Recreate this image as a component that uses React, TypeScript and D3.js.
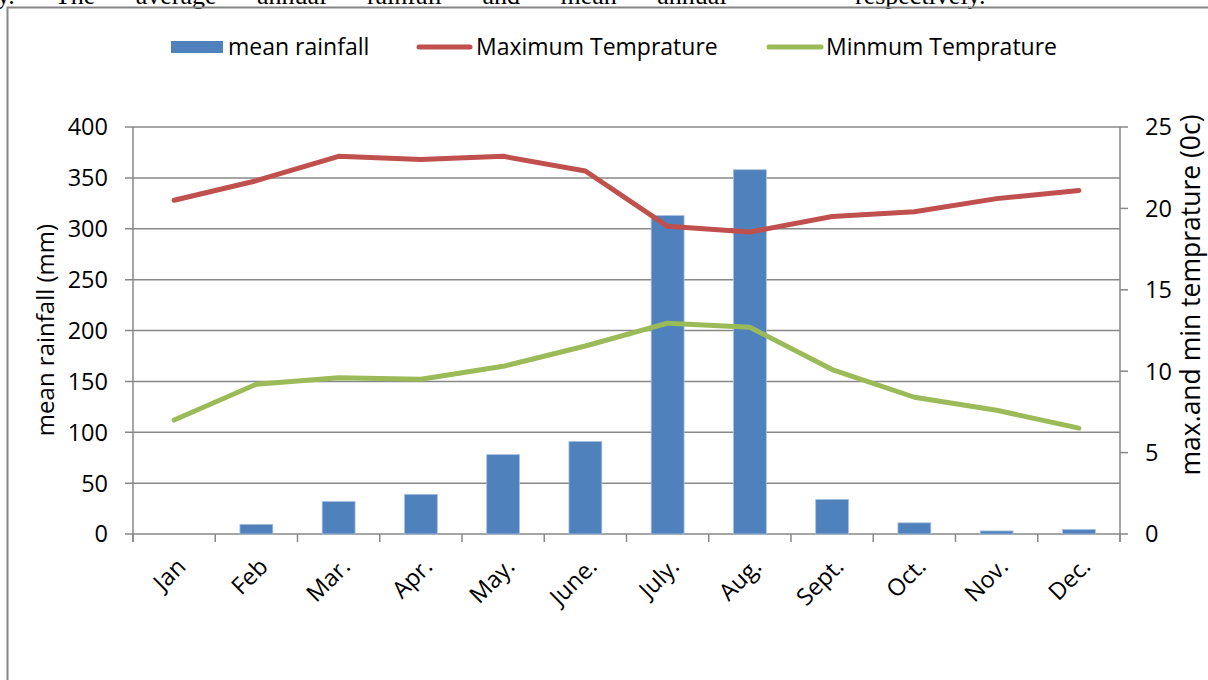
import * as d3 from 'd3'

const months = ['Jan', 'Feb', 'Mar.', 'Apr.', 'May.', 'June.', 'July.', 'Aug.', 'Sept.', 'Oct.', 'Nov.', 'Dec.']
const rainfall = [0, 9.5, 32, 39, 78, 91, 313, 358, 34, 11, 3, 4.5]
const maxTemp = [20.5, 21.7, 23.2, 23.0, 23.2, 22.3, 18.9, 18.55, 19.5, 19.8, 20.6, 21.1]
const minTemp = [7.0, 9.2, 9.6, 9.5, 10.3, 11.55, 12.95, 12.7, 10.1, 8.4, 7.6, 6.5]
const leftTicks = [0, 50, 100, 150, 200, 250, 300, 350, 400]
const rightTicks = [0, 5, 10, 15, 20, 25]

const W = 1208
const H = 680
const PLOT = { left: 133, right: 1120, top: 127, bottom: 534 }

const BLUE = '#4F81BD'
const RED = '#C0504D'
const GREEN = '#9BBB59'
const GRID = '#888888'
const FONT = '"Open Sans", sans-serif'

export default function App() {
  const x = d3.scaleBand<string>()
    .domain(months)
    .range([PLOT.left, PLOT.right])
    .paddingInner(0.6)
    .paddingOuter(0.3)
  const step = x.step()
  const center = (m: string) => (x(m) as number) + x.bandwidth() / 2

  const yL = d3.scaleLinear().domain([0, 400]).range([PLOT.bottom, PLOT.top])
  const yR = d3.scaleLinear().domain([0, 25]).range([PLOT.bottom, PLOT.top])

  const line = d3.line<number>()
    .x((_, i) => center(months[i]))
    .y(d => yR(d))

  // tick boundaries between categories
  const bounds = d3.range(months.length + 1).map(i => PLOT.left + i * step)

  return (
    <svg width={W} height={H} style={{ position: 'absolute', left: 0, top: 0, background: '#fff' }}>
      {/* line of the surrounding document, clipped by the page top */}
      <g fontFamily='"Liberation Serif", serif' fontSize={26} fill="#000">
        <text x={-3} y={4} wordSpacing={34}>y. The average annual rainfall and mean annual</text>
        <text x={855} y={4}>respectively.</text>
      </g>

      {/* outer frame */}
      <path d={`M7.5,${H} V7.5 H${W}`} fill="none" stroke="#858585" strokeWidth={2} />

      {/* legend */}
      <g fontFamily={FONT} fontSize={23} fill="#000">
        <rect x={171} y={41} width={52} height={12} fill={BLUE} />
        <text x={228} y={47} dy="0.36em">mean rainfall</text>
        <line x1={419} x2={470} y1={47} y2={47} stroke={RED} strokeWidth={5} strokeLinecap="round" />
        <text x={476} y={47} dy="0.36em">Maximum Temprature</text>
        <line x1={769} x2={821} y1={47} y2={47} stroke={GREEN} strokeWidth={5} strokeLinecap="round" />
        <text x={826} y={47} dy="0.36em">Minmum Temprature</text>
      </g>

      {/* gridlines + left ticks */}
      {leftTicks.map(t => (
        <line key={'g' + t} x1={PLOT.left - 8} x2={PLOT.right} y1={yL(t)} y2={yL(t)} stroke={GRID} strokeWidth={1.5} />
      ))}
      {/* axes */}
      <line x1={PLOT.left} x2={PLOT.left} y1={PLOT.top} y2={PLOT.bottom + 8} stroke={GRID} strokeWidth={1.5} />
      <line x1={PLOT.right} x2={PLOT.right} y1={PLOT.top} y2={PLOT.bottom + 8} stroke={GRID} strokeWidth={1.5} />
      {rightTicks.map(t => (
        <line key={'r' + t} x1={PLOT.right} x2={PLOT.right + 8} y1={yR(t)} y2={yR(t)} stroke={GRID} strokeWidth={1.5} />
      ))}
      {bounds.map((b, i) => (
        <line key={'b' + i} x1={b} x2={b} y1={PLOT.bottom} y2={PLOT.bottom + 8} stroke={GRID} strokeWidth={1.5} />
      ))}

      {/* bars */}
      {rainfall.map((v, i) => v > 0 && (
        <rect key={'bar' + i} x={x(months[i])} y={yL(v)} width={x.bandwidth()} height={yL(0) - yL(v)}
          fill={BLUE} stroke="#A9C1E0" strokeWidth={0.8} />
      ))}

      {/* temperature lines */}
      <path d={line(maxTemp) ?? ''} fill="none" stroke={RED} strokeWidth={5} strokeLinejoin="round" strokeLinecap="round" />
      <path d={line(minTemp) ?? ''} fill="none" stroke={GREEN} strokeWidth={5} strokeLinejoin="round" strokeLinecap="round" />

      {/* tick labels */}
      <g fontFamily={FONT} fontSize={23.5} fill="#000">
        {leftTicks.map(t => (
          <text key={'lt' + t} x={PLOT.left - 25} y={yL(t)} dy="0.36em" textAnchor="end">{t}</text>
        ))}
        {rightTicks.map(t => (
          <text key={'rt' + t} x={PLOT.right + 25} y={yR(t)} dy="0.36em">{t}</text>
        ))}
        {months.map(m => (
          <text key={m} transform={`translate(${center(m) + 7},${PLOT.bottom + 28}) rotate(-45)`}
            textAnchor="end" dy="0.36em">{m}</text>
        ))}
        <text transform={`translate(45,330) rotate(-90)`} textAnchor="middle" dy="0.36em" fontSize={24}>mean rainfall (mm)</text>
        <text transform={`translate(1190,295) rotate(-90)`} textAnchor="middle" dy="0.36em" fontSize={26.5}>max.and min temprature (0c)</text>
      </g>
    </svg>
  )
}
